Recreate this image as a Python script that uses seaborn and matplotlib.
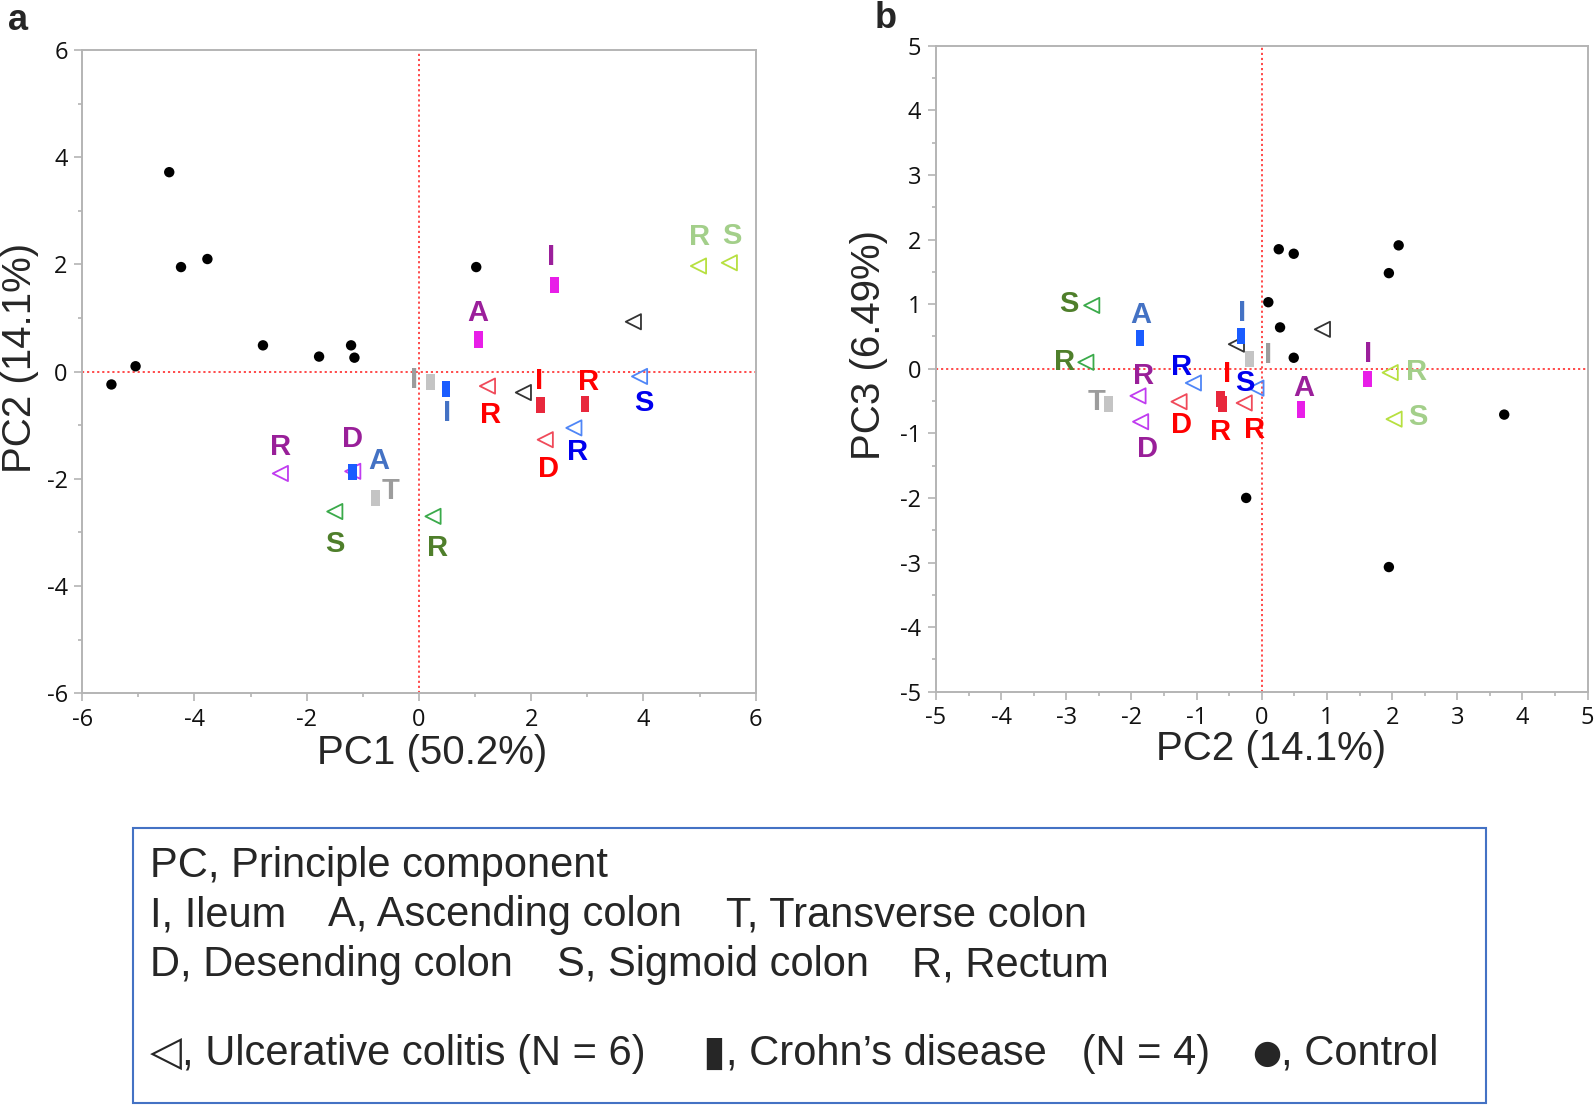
import numpy as np
import pandas as pd
import matplotlib
matplotlib.use("Agg")
from matplotlib import pyplot as plt
from matplotlib.patches import Rectangle
from matplotlib.ticker import MultipleLocator
import seaborn as sns

# ---- data (PC scores) ----
# controls
ctrl_pc1 = [-4.45, -4.24, -3.77, 1.02, -2.78, -1.21, -1.78, -1.15, -5.05, -5.48]
ctrl_pc2 = [3.72, 1.95, 2.10, 1.95, 0.49, 0.49, 0.28, 0.26, 0.10, -0.24]
ctrl_pc3 = [-0.71, 1.48, 1.91, -3.07, 1.78, 0.17, 0.64, 1.85, 1.03, -2.00]

# ulcerative colitis (6 patients)
uc_patient = ["uc1", "uc1", "uc2", "uc2", "uc3", "uc3", "uc4", "uc4", "uc5", "uc5", "uc6", "uc6"]
uc_site = ["R", "D", "S", "R", "R", "D", "", "", "S", "R", "R", "S"]
uc_pc1 = [-2.47, -1.18, -1.50, 0.25, 1.22, 2.25, 1.86, 3.82, 3.93, 2.76, 4.98, 5.53]
uc_pc2 = [-1.90, -1.86, -2.61, -2.70, -0.27, -1.27, -0.39, 0.93, -0.09, -1.05, 1.97, 2.03]
uc_pc3 = [-0.42, -0.82, 0.98, 0.10, -0.53, -0.51, 0.38, 0.61, -0.30, -0.22, -0.06, -0.78]

# Crohn's disease (4 patients)
cd_patient = ["cd1", "cd1", "cd2", "cd2", "cd3", "cd3", "cd4", "cd4"]
cd_site = ["A", "I", "T", "I", "A", "I", "I", "R"]
cd_pc1 = [-1.18, 0.48, -0.78, 0.21, 1.06, 2.41, 2.17, 2.96]
cd_pc2 = [-1.87, -0.32, -2.35, -0.19, 0.60, 1.62, -0.63, -0.60]
cd_pc3 = [0.47, 0.51, -0.55, 0.15, -0.63, -0.16, -0.47, -0.55]

# ---- styling ----
uc_marker_col = {"uc1": "#c03cf0", "uc2": "#3aaa4a", "uc3": "#f04a5a",
                 "uc4": "#333333", "uc5": "#4f86f7", "uc6": "#b7e040"}
uc_label_col = {"uc1": "#991f99", "uc2": "#4f7f2b", "uc3": "#ff0000",
                "uc4": "#333333", "uc5": "#0000ee", "uc6": "#a3cf8a"}
cd_marker_col = {"cd1": "#1a5cff", "cd2": "#c4c4c4", "cd3": "#e81ee8", "cd4": "#e8283c"}
cd_label_col = {"cd1": "#4472c4", "cd2": "#9c9c9c", "cd3": "#9b1f9b", "cd4": "#ff0000"}

# label offsets (pixels, up = positive) for panel a / panel b
uc_off = {
    "a": [(0, 26), (0, 32), (0, -32), (5, -32), (3, -29), (3, -29), None, None,
          (4, -27), (4, -24), (1, 29), (3, 27)],
    "b": [(6, 20), (7, -27), (-23, 1), (-21, 0), (10, -27), (2, -23), None, None,
          (-11, 5), (-12, 16), (26, 1), (24, 2)],
}
cd_off = {
    "a": [(26, 11), (1, -24), (15, 7), (-17, 2), (-1, 26), (-3, 28), (-2, 24), (3, 22)],
    "b": [(1, 23), (1, 23), (-12, 2), (19, 4), (3, 21), (1, 25), (6, 25), (-2, -28)],
}

ctrl = pd.DataFrame({"pc1": ctrl_pc1, "pc2": ctrl_pc2, "pc3": ctrl_pc3})
uc = pd.DataFrame({"patient": uc_patient, "site": uc_site,
                   "pc1": uc_pc1, "pc2": uc_pc2, "pc3": uc_pc3})
cd = pd.DataFrame({"patient": cd_patient, "site": cd_site,
                   "pc1": cd_pc1, "pc2": cd_pc2, "pc3": cd_pc3})

sns.set_style("white")
plt.rcParams["font.family"] = ["Liberation Sans", "DejaVu Sans"]
plt.rcParams["axes.unicode_minus"] = False

fig = plt.figure(figsize=(15.94, 11.05), dpi=100)
ax_a = fig.add_axes([0.0516, 0.3726, 0.4225, 0.5822])
ax_b = fig.add_axes([0.5872, 0.3740, 0.4088, 0.5846])

bar_marker = [(-0.27, -0.5), (0.27, -0.5), (0.27, 0.5), (-0.27, 0.5), (-0.27, -0.5)]


def draw_panel(ax, xc, yc, key, lim, major, minor, xlabel, ylabel):
    ax.axhline(0, color="#ff3b3b", ls=(0, (1.2, 1.6)), lw=1.3, zorder=1)
    ax.axvline(0, color="#ff3b3b", ls=(0, (1.2, 1.6)), lw=1.3, zorder=1)

    sns.scatterplot(data=ctrl, x=xc, y=yc, ax=ax, color="black", s=56,
                    edgecolor="none", legend=False, zorder=3)
    sns.scatterplot(data=uc, x=xc, y=yc, ax=ax, marker="<", s=120,
                    facecolor="none", linewidth=1.3,
                    edgecolor=[uc_marker_col[p] for p in uc.patient],
                    legend=False, zorder=3)
    sns.scatterplot(data=cd, x=xc, y=yc, ax=ax, hue="patient", palette=cd_marker_col,
                    marker=bar_marker, s=135, edgecolor="none", linewidth=0,
                    legend=False, zorder=4)

    for df, offs, cols in [(uc, uc_off[key], uc_label_col), (cd, cd_off[key], cd_label_col)]:
        for i, row in df.iterrows():
            if offs[i] is None or not row.site:
                continue
            ax.annotate(row.site, (row[xc], row[yc]), xytext=offs[i],
                        textcoords="offset pixels", ha="center", va="center",
                        fontsize=21, fontweight="bold", color=cols[row.patient],
                        zorder=5)

    ax.set_xlim(-lim, lim)
    ax.set_ylim(-lim, lim)
    for axis in (ax.xaxis, ax.yaxis):
        axis.set_major_locator(MultipleLocator(major))
        axis.set_minor_locator(MultipleLocator(minor))
    for s in ax.spines.values():
        s.set_color("#b4b4b4")
        s.set_linewidth(1.4)
    ax.tick_params(which="both", direction="out", color="#b4b4b4", width=1.2,
                   top=False, right=False, bottom=True, left=True)
    ax.tick_params(which="major", length=5.5, pad=5, labelsize=17,
                   labelcolor="#111111", labelfontfamily="Open Sans")
    ax.tick_params(which="minor", length=3)
    ax.set_xlabel(xlabel, fontsize=29, va="center")
    ax.set_ylabel(ylabel, fontsize=29, va="center")


draw_panel(ax_a, "pc1", "pc2", "a", 6, 2, 1, "PC1 (50.2%)", "PC2 (14.1%)")
draw_panel(ax_b, "pc2", "pc3", "b", 5, 1, 0.5, "PC2 (14.1%)", "PC3 (6.49%)")
ax_a.xaxis.set_label_coords(0.52, -0.093)
ax_a.yaxis.set_label_coords(-0.092, 0.521)
ax_b.xaxis.set_label_coords(0.514, -0.089)
ax_b.yaxis.set_label_coords(-0.103, 0.536)

fig.text(18 / 1594, 1 - 20 / 1105, "a", fontsize=26, fontweight="bold", ha="center", va="center")
fig.text(886 / 1594, 1 - 18 / 1105, "b", fontsize=26, fontweight="bold", ha="center", va="center")

# ---- abbreviation box ----
W, H = 1594, 1105
fig.patches.append(Rectangle((133 / W, 1 - 1103 / H), (1486 - 133) / W,
                             (1103 - 828) / H, transform=fig.transFigure,
                             fill=False, edgecolor="#4472c4", linewidth=1.5))
box_text = [
    (150, 877, "PC, Principle component"),
    (150, 926, "I, Ileum"), (328, 926, "A, Ascending colon"), (726, 926, "T, Transverse colon"),
    (150, 976, "D, Desending colon"), (557, 976, "S, Sigmoid colon"), (912, 976, "R, Rectum"),
    (150, 1065, "\u25c1, Ulcerative colitis (N = 6)"),
    (703, 1065, "\u25ae, Crohn\u2019s disease   (N = 4)"),
    (1281, 1065, ", Control"),
]
for x, y, t in box_text:
    fig.text(x / W, 1 - y / H, t, fontsize=30, ha="left", va="baseline",
             family=["Liberation Sans", "DejaVu Sans"])
fig.text(1252 / W, 1 - 1063 / H, "\u25cf", fontsize=24, ha="left", va="baseline",
         family="DejaVu Sans")

fig.savefig("out.png", dpi=100)
